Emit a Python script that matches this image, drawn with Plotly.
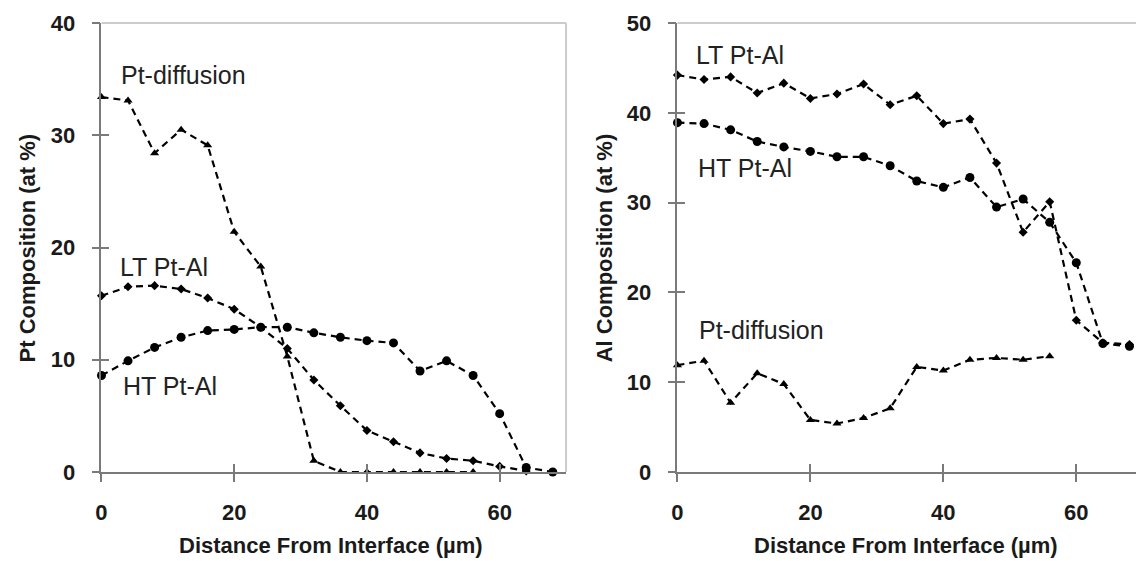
import plotly.graph_objects as go

# ---------------- data ----------------
distance = [0, 4, 8, 12, 16, 20, 24, 28, 32, 36, 40, 44, 48, 52, 56, 60, 64, 68]

# Left panel: Pt composition (at %)
pt_diff_pt = [33.4, 33.1, 28.4, 30.5, 29.1, 21.4, 18.3, 10.3, 1.0, 0.0, 0.0, 0.0, 0.0, 0.0, 0.0]
lt_ptal_pt = [15.7, 16.5, 16.6, 16.3, 15.5, 14.5, 12.9, 11.0, 8.2, 5.9, 3.7, 2.7, 1.7, 1.2, 1.0, 0.5, 0.1]
ht_ptal_pt = [8.6, 9.9, 11.1, 12.0, 12.6, 12.7, 12.9, 12.9, 12.4, 12.0, 11.7, 11.5, 9.0, 9.9, 8.6, 5.2, 0.4, 0.0]

# Right panel: Al composition (at %)
lt_ptal_al = [44.2, 43.7, 44.0, 42.2, 43.3, 41.6, 42.1, 43.2, 40.9, 41.9, 38.8, 39.3, 34.4, 26.7, 30.1, 16.9, 14.4, 14.2]
ht_ptal_al = [38.9, 38.8, 38.1, 36.8, 36.2, 35.7, 35.1, 35.1, 34.1, 32.4, 31.7, 32.8, 29.5, 30.4, 27.8, 23.3, 14.3, 14.0]
pt_diff_al = [11.9, 12.4, 7.7, 11.0, 9.8, 5.8, 5.4, 6.0, 7.1, 11.7, 11.3, 12.5, 12.7, 12.5, 12.9]

x_ticks = [0, 20, 40, 60]
left_y_ticks = [0, 10, 20, 30, 40]
right_y_ticks = [0, 10, 20, 30, 40, 50]

x_title = "Distance From Interface (µm)"
left_y_title = "Pt Composition (at %)"
right_y_title = "Al Composition (at %)"

# ---------------- styling ----------------
W, H = 1136, 561
FONT = "Liberation Sans, Arial, sans-serif"
AXIS_GREY = "#7a7a7a"
BORDER_GREY = "#cccccc"
TEXT = "#1a1a1a"
DASH = "7px,5px"

fig = go.Figure()


def add_series(x, y, symbol, size, xa, ya):
    fig.add_trace(go.Scatter(
        x=x[:len(y)], y=y, mode="lines+markers",
        line=dict(color="black", width=2.2, dash=DASH),
        marker=dict(symbol=symbol, size=size, color="black"),
        xaxis=xa, yaxis=ya, showlegend=False, cliponaxis=False))


# left panel
add_series(distance, pt_diff_pt, "triangle-up", 8, "x", "y")
add_series(distance, lt_ptal_pt, "diamond", 7, "x", "y")
add_series(distance, ht_ptal_pt, "circle", 9, "x", "y")
# right panel
add_series(distance, lt_ptal_al, "diamond", 7, "x2", "y2")
add_series(distance, ht_ptal_al, "circle", 9, "x2", "y2")
add_series(distance, pt_diff_al, "triangle-up", 8, "x2", "y2")

# helper traces so the inside-tick overlay axes are drawn (crossing ticks)
for xa, ya in [("x3", "y3"), ("x4", "y4")]:
    fig.add_trace(go.Scatter(x=[None], y=[None], xaxis=xa, yaxis=ya,
                             showlegend=False, hoverinfo="skip"))

left_dom = [96 / W, 563 / W]
right_dom = [675 / W, 1.0]
left_xr = [0, 70]
right_xr = [0, (W - 675) / 6.683]

tickfont = dict(family=FONT, size=22, color=TEXT, weight="bold")
common_x = dict(tickvals=x_ticks, ticks="outside", ticklen=8, tickwidth=1.5,
                tickcolor=AXIS_GREY, showline=True, linecolor=AXIS_GREY,
                linewidth=1.5, showgrid=False, zeroline=False,
                tickfont=tickfont, ticklabelstandoff=12)
common_y = dict(ticks="outside", ticklen=8, tickwidth=1.5, tickcolor=AXIS_GREY,
                showline=True, linecolor=AXIS_GREY, linewidth=1.5,
                showgrid=False, zeroline=False, tickfont=tickfont,
                ticklabelstandoff=12)
inner_x = dict(tickvals=x_ticks, ticks="inside", ticklen=8, tickwidth=1.5,
               tickcolor=AXIS_GREY, showline=False, showgrid=False,
               zeroline=False, showticklabels=False)
inner_y = dict(ticks="inside", ticklen=8, tickwidth=1.5, tickcolor=AXIS_GREY,
               showline=False, showgrid=False, zeroline=False,
               showticklabels=False)

fig.update_layout(
    width=W, height=H,
    margin=dict(l=0, r=0, t=23, b=89),
    paper_bgcolor="white", plot_bgcolor="white",
    font=dict(family=FONT, color=TEXT),
    xaxis=dict(domain=left_dom, range=left_xr, anchor="y", **common_x),
    yaxis=dict(domain=[0, 1], range=[0, 40], tickvals=left_y_ticks, anchor="x", **common_y),
    xaxis2=dict(domain=right_dom, range=right_xr, anchor="y2", **common_x),
    yaxis2=dict(domain=[0, 1], range=[0, 50], tickvals=right_y_ticks, anchor="x2", **common_y),
    xaxis3=dict(overlaying="x", range=left_xr, anchor="y3", **inner_x),
    yaxis3=dict(overlaying="y", range=[0, 40], tickvals=left_y_ticks, anchor="x3", **inner_y),
    xaxis4=dict(overlaying="x2", range=right_xr, anchor="y4", **inner_x),
    yaxis4=dict(overlaying="y2", range=[0, 50], tickvals=right_y_ticks, anchor="x4", **inner_y),
)

# frame borders (light grey top/right on the left panel, top on the right panel)
border = dict(color=BORDER_GREY, width=2)
fig.add_shape(type="line", xref="x domain", yref="y domain", x0=0, x1=1, y0=1, y1=1, line=border)
fig.add_shape(type="line", xref="x domain", yref="y domain", x0=1, x1=1, y0=0, y1=1, line=border)
fig.add_shape(type="line", xref="x2 domain", yref="y2 domain", x0=0, x1=1, y0=1, y1=1, line=border)

# series labels
ann_font = dict(family=FONT, size=25, color="#222222")
labels = [
    ("x", "y", 2.6, 35.4, "Pt-diffusion"),
    ("x", "y", 2.5, 18.3, "LT Pt-Al"),
    ("x", "y", 2.9, 7.7, "HT Pt-Al"),
    ("x2", "y2", 2.5, 46.4, "LT Pt-Al"),
    ("x2", "y2", 2.8, 33.9, "HT Pt-Al"),
    ("x2", "y2", 3.0, 15.8, "Pt-diffusion"),
]
for xr, yr, xv, yv, txt in labels:
    fig.add_annotation(xref=xr, yref=yr, x=xv, y=yv, text=txt, showarrow=False,
                       xanchor="left", yanchor="middle", font=ann_font)

# axis titles
title_font = dict(family=FONT, size=22, color=TEXT, weight="bold")
fig.add_annotation(xref="paper", yref="paper", x=327 / W, y=(472 - 545) / 449,
                   text=x_title, showarrow=False, xanchor="center", yanchor="middle",
                   font=title_font)
fig.add_annotation(xref="paper", yref="paper", x=905 / W, y=(472 - 545) / 449,
                   text=x_title, showarrow=False, xanchor="center", yanchor="middle",
                   font=title_font)
fig.add_annotation(xref="paper", yref="paper", x=22 / W, y=0.5, textangle=-90,
                   text=left_y_title, showarrow=False, xanchor="center", yanchor="middle",
                   font=title_font)
fig.add_annotation(xref="paper", yref="paper", x=602 / W, y=0.5, textangle=-90,
                   text=right_y_title, showarrow=False, xanchor="center", yanchor="middle",
                   font=title_font)

fig.write_html("out.html")
